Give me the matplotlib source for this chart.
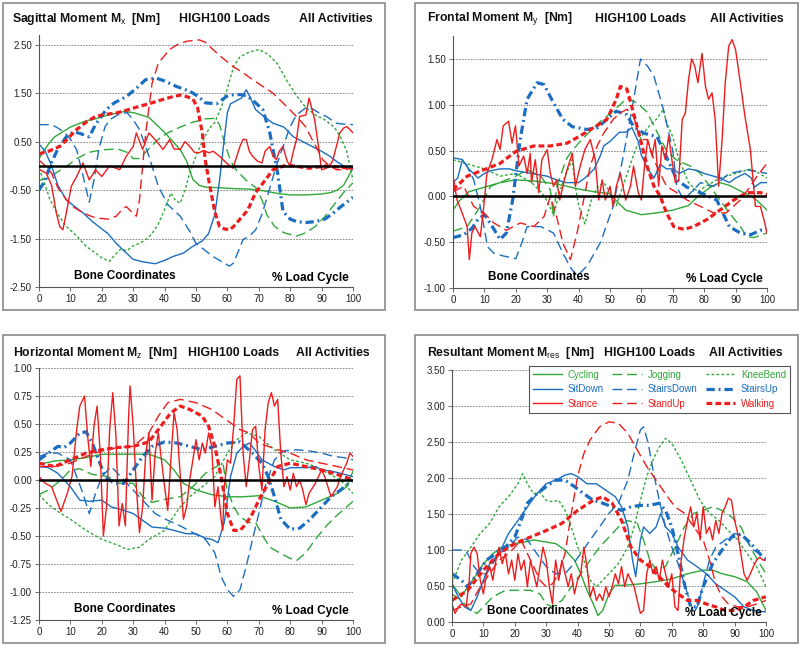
import matplotlib
matplotlib.use("Agg")
import matplotlib.pyplot as plt
from matplotlib.patches import Rectangle

plt.rcParams["font.family"] = ["Liberation Sans", "DejaVu Sans"]
plt.rcParams["mathtext.fontset"] = "custom"
plt.rcParams["mathtext.rm"] = "Liberation Sans"
plt.rcParams["mathtext.bf"] = "Liberation Sans:bold"
plt.rcParams["mathtext.it"] = "Liberation Sans:italic"

activities = ["Cycling", "Jogging", "KneeBend", "SitDown", "StairsDown",
              "StairsUp", "Stance", "StandUp", "Walking"]

# ---- Sagittal moment Mx [Nm]  (% load cycle, value)
mx_cycling = [(0, 0.15), (3, 0.45), (5, 0.6), (10, 0.8), (15, 0.93), (18, 0.97), (22, 1.05), (27, 1.12), (30, 1.1), (35, 1.0), (39.5, 0.72), (42, 0.55), (45, 0.33), (47, 0.1), (49, -0.28), (51, -0.4), (53, -0.44), (57, -0.45), (62, -0.47), (67, -0.48), (72, -0.52), (76, -0.57), (80, -0.6), (85, -0.6), (90, -0.58), (93, -0.55), (95, -0.5), (97, -0.4), (100, -0.05)]
mx_jogging = [(0, -0.3), (3, -0.25), (6, -0.12), (9, 0.0), (12, 0.15), (16, 0.28), (20, 0.33), (25, 0.35), (28, 0.28), (30, 0.15), (32, 0.15), (35, 0.35), (38, 0.55), (41, 0.68), (45, 0.8), (49, 0.9), (53, 0.97), (56, 0.98), (57.5, 0.85), (59, 0.5), (61, 0.1), (63, -0.1), (66, -0.3), (69, -0.45), (71, -0.7), (72.5, -1.0), (75, -1.25), (78, -1.38), (82, -1.45), (85, -1.38), (88, -1.25), (91, -1.05), (94, -0.8), (97, -0.55), (100, -0.35)]
mx_kneebend = [(0, -0.05), (2, -0.4), (3.5, -0.7), (6, -1.0), (8.7, -1.25), (12, -1.45), (15, -1.66), (18, -1.8), (20, -1.9), (22.5, -1.97), (24, -1.85), (26, -1.72), (28, -1.75), (30, -1.65), (32, -1.6), (34, -1.52), (36, -1.4), (38, -1.2), (40, -0.9), (42, -0.56), (43.5, -0.72), (45, -0.77), (46.5, -0.5), (48, -0.15), (50, 0.2), (52, 0.5), (54, 0.75), (56, 0.9), (58, 1.2), (60, 1.6), (62, 2.05), (64, 2.25), (67, 2.35), (70, 2.4), (73, 2.3), (76, 2.1), (79, 1.75), (82, 1.45), (85, 1.2), (88, 1.05), (91, 0.95), (94, 0.8), (96, 0.6), (98, 0.3), (100, -0.3)]
mx_sitdown = [(0, 0.45), (2, 0.3), (4, 0.0), (6, -0.4), (8.7, -0.7), (11, -0.82), (14, -0.97), (17, -1.15), (19, -1.25), (22, -1.4), (24.6, -1.6), (27, -1.75), (30, -1.93), (33, -1.98), (37, -2.02), (40, -1.95), (42.7, -1.87), (46, -1.8), (49, -1.66), (52, -1.55), (54, -1.4), (56, -1.0), (57.5, -0.3), (58.6, 0.33), (60, 1.1), (61, 1.28), (63, 1.35), (64.5, 1.4), (66, 1.57), (67, 1.45), (69, 1.16), (71, 1.05), (74.5, 0.88), (78, 0.8), (81, 0.6), (84, 0.5), (87, 0.4), (90, 0.3), (92.6, 0.2), (95, 0.08), (97, 0.0), (100, -0.08)]
mx_stairsdown = [(0, 0.85), (3, 0.85), (5, 0.82), (8, 0.7), (10, 0.55), (12, 0.33), (14, -0.2), (16, -0.75), (17.5, -0.3), (19, 0.33), (21, 0.8), (22.5, 0.95), (25, 1.05), (28, 1.1), (30, 0.95), (32, 0.75), (35, 0.2), (38, -0.42), (41, -0.8), (45, -1.04), (48, -1.35), (50, -1.6), (53, -1.75), (55.4, -1.87), (58, -1.97), (60.7, -2.07), (62, -2.0), (65, -1.52), (67, -1.45), (69, -1.32), (71, -1.0), (72.4, -0.7), (74, -0.35), (75.6, 0.0), (78, 0.45), (80, 0.81), (82, 1.05), (85, 1.2), (87, 1.18), (89, 1.1), (92, 1.0), (94.7, 0.88), (97, 0.86), (100, 0.85)]
mx_stairsup = [(0, -0.5), (2, -0.3), (3.5, 0.0), (6, 0.35), (8.7, 0.6), (11, 0.7), (13, 0.67), (16, 0.6), (18, 0.85), (21.4, 1.16), (24, 1.3), (27.8, 1.43), (31, 1.6), (34, 1.78), (37.4, 1.81), (40, 1.75), (43.7, 1.64), (48, 1.54), (51, 1.42), (53, 1.3), (56.5, 1.28), (59.7, 1.43), (62, 1.47), (64, 1.47), (66, 1.45), (68, 1.36), (71.3, 1.16), (73.5, 0.68), (76, -0.15), (77.7, -0.94), (80, -1.1), (82, -1.15), (85, -1.17), (88, -1.15), (91, -1.1), (93.6, -0.98), (96, -0.85), (99, -0.7), (100, -0.65)]
mx_stance = [(0, -0.07), (2.3, -0.15), (4, -0.4), (5.5, -0.97), (6.6, -1.25), (7.6, -1.32), (8.7, -0.97), (10.3, -0.42), (12, -0.22), (14, 0.06), (16, -0.29), (18, -0.08), (20, -0.22), (22.5, 0.0), (25.7, -0.08), (27.8, 0.2), (30, 0.4), (31, 0.68), (33, 0.34), (35, 0.68), (37, 0.54), (39.5, 0.34), (41.6, 0.54), (43, 0.35), (45, 0.34), (46.5, 0.5), (48, 0.4), (49.5, 0.28), (51, 0.27), (52.5, 0.32), (54, 0.27), (55.5, 0.3), (57.5, 0.2), (59.7, 0.06), (61.8, -0.05), (63, 0.2), (64, 0.4), (65, 0.55), (66, 0.54), (67, 0.3), (68, 0.2), (69.5, 0.1), (71, 0.06), (72, 0.3), (73.5, 0.4), (74.5, 0.2), (75.6, 0.13), (76.5, 0.3), (77.7, 0.4), (79, 0.1), (80, 0.0), (81, 0.3), (82, 0.54), (83, 1.02), (85, 1.05), (86, 1.4), (86.8, 1.2), (87.8, 0.95), (89, 0.4), (90, -0.08), (91.5, -0.05), (92.6, 0.0), (93.5, 0.1), (94.7, 0.4), (95.8, 0.68), (97, 0.78), (98, 0.81), (99, 0.75), (100, 0.68)]
mx_standup = [(0, 0.12), (2, 0.0), (4, -0.15), (6, -0.45), (8.7, -0.7), (11, -0.85), (14, -0.97), (17, -1.05), (19, -1.08), (22, -1.1), (24.6, -1.04), (26.5, -0.9), (27.8, -0.84), (29.5, -0.95), (31, -1.04), (32, -0.7), (33, 0.0), (34, 0.68), (36, 1.7), (38, 2.12), (41.6, 2.4), (44, 2.5), (47, 2.57), (51, 2.6), (53, 2.55), (55.4, 2.4), (58, 2.25), (61.8, 2.05), (65, 1.92), (68, 1.78), (71, 1.65), (74.5, 1.5), (78.8, 1.23), (83, 0.95), (85, 0.8), (87, 0.54), (89, 0.3), (90.4, 0.12), (92.5, 0.0), (94.7, -0.08), (97, -0.08), (100, -0.05)]
mx_walking = [(0, 0.25), (3, 0.3), (6.6, 0.4), (9, 0.55), (12, 0.75), (15, 0.9), (18, 1.02), (21, 1.06), (24.6, 1.09), (28, 1.15), (32, 1.23), (35, 1.28), (37.4, 1.33), (40, 1.38), (42.7, 1.43), (45, 1.46), (47, 1.43), (49, 1.38), (50.5, 1.2), (52, 0.68), (53, 0.1), (54.4, -0.42), (56, -0.95), (57.5, -1.25), (59, -1.3), (60.7, -1.32), (62, -1.25), (64, -1.1), (66, -0.95), (67, -0.84), (69, -0.55), (72, -0.3), (74.5, -0.08), (78, 0.0), (81, 0.0), (86, -0.05), (91.5, 0.0), (96, -0.03), (100, -0.05)]

# ---- Frontal moment My [Nm]
my_cycling = [(0, -0.15), (2, -0.05), (5, 0.05), (10, 0.1), (15, 0.15), (20, 0.18), (25, 0.17), (30, 0.15), (35, 0.12), (40, 0.08), (45, 0.05), (50, 0.03), (52, -0.05), (55, -0.15), (60, -0.2), (65, -0.18), (70, -0.15), (75, -0.1), (78, 0.0), (82, 0.1), (85, 0.15), (88, 0.12), (92, 0.05), (95, 0.0), (97, -0.05), (100, -0.15)]
my_jogging = [(0, -0.38), (4.5, -0.33), (8.7, -0.11), (12, 0.11), (17, 0.18), (20, 0.22), (23.6, 0.29), (28, 0.22), (31, 0.07), (32, -0.22), (33, 0.1), (35, 0.3), (36.3, 0.42), (38, 0.5), (40, 0.58), (42.7, 0.68), (47, 0.82), (51, 0.93), (55.4, 1.07), (58.6, 1.02), (61.8, 0.92), (65, 0.7), (68, 0.5), (71, 0.4), (75.6, 0.33), (78.8, 0.25), (82, 0.1), (85, -0.04), (88, -0.18), (91.5, -0.33), (93.6, -0.44), (95.8, -0.45), (100, -0.4)]
my_kneebend = [(0, 0.4), (5, 0.35), (10, 0.3), (15, 0.22), (20, 0.25), (25, 0.15), (28, 0.05), (30, -0.05), (32, -0.2), (34, 0.05), (36, 0.25), (38, 0.4), (39, 0.1), (40, -0.1), (42, -0.3), (44, -0.05), (46, 0.1), (48, 0.15), (50, 0.05), (52, -0.1), (54, 0.1), (56, 0.3), (58, 0.5), (60, 0.65), (62, 0.75), (65, 0.85), (67, 0.95), (68, 0.8), (70, 0.65), (72, 0.4), (75, 0.15), (78, 0.05), (80, 0.1), (85, 0.2), (90, 0.25), (95, 0.3), (100, 0.2)]
my_sitdown = [(0, 0.15), (1.5, 0.2), (3, 0.4), (5, 0.3), (8, 0.2), (10, 0.25), (12, 0.28), (15, 0.3), (18, 0.3), (20, 0.28), (25, 0.25), (30, 0.22), (33, 0.18), (36, 0.15), (38, 0.15), (40, 0.15), (42, 0.2), (45, 0.3), (47, 0.45), (48, 0.55), (50, 0.6), (53, 0.7), (55, 0.7), (57, 0.75), (59, 0.6), (60, 0.45), (62, 0.3), (64, 0.2), (66, 0.35), (68, 0.3), (70, 0.3), (72, 0.25), (75, 0.3), (78, 0.28), (80, 0.25), (83, 0.22), (85, 0.2), (88, 0.15), (90, 0.2), (93, 0.25), (95, 0.2), (96, 0.1), (98, 0.15), (100, 0.15)]
my_stairsdown = [(0, 0.42), (3.4, 0.4), (6.6, 0.18), (8.7, -0.11), (11, -0.55), (13, -0.62), (16, -0.65), (20, -0.68), (22, -0.5), (23.6, -0.33), (28, -0.33), (32, -0.4), (35, -0.62), (37.5, -0.78), (39.5, -0.87), (42.7, -0.76), (47, -0.5), (51, -0.11), (54.4, 0.47), (57.5, 1.05), (59.7, 1.5), (62, 1.42), (64, 1.31), (67, 0.95), (70, 0.5), (71.3, 0.1), (73.5, -0.04), (78.8, 0.15), (83, 0.11), (88, 0.25), (93.6, 0.29), (100, 0.25)]
my_stairsup = [(0, -0.45), (3.4, -0.42), (6, -0.35), (8, -0.25), (10, -0.2), (12, -0.3), (15, -0.47), (17, -0.4), (19, -0.04), (21.4, 0.62), (23.6, 1.06), (26.8, 1.24), (29, 1.22), (32, 1.02), (35, 0.84), (38, 0.76), (42.7, 0.73), (46, 0.75), (49, 0.84), (52, 0.93), (55.4, 0.89), (57.5, 0.76), (60.7, 0.69), (65, 0.65), (68, 0.43), (71.3, 0.18), (74.5, 0.1), (78.8, 0.04), (84, -0.04), (88, -0.33), (91.5, -0.4), (94.7, -0.42), (97.9, -0.37), (100, -0.37)]
my_stance = [(0, 0.22), (1.3, -0.04), (2.9, -0.18), (4.5, -0.33), (5.2, -0.69), (6, -0.4), (7, -0.33), (8.7, -0.44), (9.8, -0.11), (10.8, 0.25), (12.4, 0.4), (14, 0.62), (15, 0.51), (16, 0.77), (17.7, 0.82), (18.8, 0.58), (19.9, 0.77), (21, 0.33), (22.5, 0.44), (23.6, 0.25), (24.6, 0.47), (25, 0.15), (26.2, 0.4), (27.3, 0.04), (28.3, 0.4), (30, 0.51), (31, 0.25), (32, 0.11), (33, 0.18), (34, -0.04), (35, 0.11), (36.3, 0.29), (38, 0.47), (39, 0.11), (40.5, 0.33), (42, 0.51), (43.7, 0.62), (45.3, 0.4), (46.4, -0.04), (47.5, 0.18), (48.5, -0.04), (50, 0.11), (51, -0.11), (52, 0.11), (53.3, 0.25), (55, -0.04), (56.5, 0.11), (57.5, 0.33), (59, 0.04), (60, -0.04), (61, 0.33), (62, 0.62), (63.4, 0.44), (64.4, 0.62), (65.5, 0.11), (66.5, 0.55), (67.6, 0.4), (68.7, 0.66), (69.7, 0.4), (70.8, 0.15), (71.9, 0.18), (73, 0.84), (74, 0.91), (75, 1.27), (76, 1.5), (77, 1.42), (78, 1.24), (79.3, 1.56), (80.4, 1.2), (81.4, 1.06), (82.5, 1.13), (83.5, 0.84), (84.6, 0.11), (85.7, 0.62), (86.7, 1.24), (87.8, 1.64), (88.9, 1.71), (90, 1.6), (91.5, 1.24), (93, 0.87), (94.7, 0.51), (96.3, -0.11), (97.9, -0.11), (99, -0.25), (100, -0.4)]
my_standup = [(0, 0.05), (3.4, 0.11), (6.6, -0.11), (9.8, -0.18), (13, -0.29), (17, -0.37), (21.4, -0.29), (25.7, -0.33), (29, -0.22), (31, 0.0), (33, -0.22), (35, -0.51), (37.4, -0.69), (39.5, -0.4), (41.6, -0.04), (43.7, 0.33), (45.9, 0.55), (48, 0.69), (51, 0.84), (53.3, 0.91), (55.4, 0.95), (57.5, 0.87), (59.7, 0.62), (61.8, 0.62), (64, 0.4), (66, 0.25), (68, 0.11), (71.3, 0.04), (74.5, -0.04), (78.8, -0.11), (83, -0.18), (87, -0.18), (91.5, -0.04), (94.7, 0.11), (96.8, 0.22), (100, 0.36)]
my_walking = [(0, 0.07), (4.5, 0.22), (9.8, 0.29), (15, 0.36), (20, 0.49), (25.7, 0.55), (31, 0.55), (36.3, 0.58), (40.5, 0.66), (44.8, 0.75), (49, 0.84), (52, 1.06), (53.3, 1.2), (55.4, 1.17), (57.5, 0.91), (59.7, 0.62), (61.8, 0.33), (64, 0.11), (66, 0.0), (68, -0.18), (70.3, -0.33), (73.5, -0.36), (76.6, -0.33), (81, -0.25), (85, -0.15), (89.4, -0.04), (93.6, 0.04), (98, 0.04), (100, 0.02)]

# ---- Horizontal moment Mz [Nm]
mz_cycling = [(0, 0.14), (5, 0.17), (10, 0.18), (15, 0.2), (20, 0.23), (25, 0.23), (30, 0.23), (35, 0.23), (40, 0.18), (43, 0.09), (46, -0.03), (50, -0.09), (55, -0.13), (60, -0.15), (65, -0.15), (70, -0.14), (75, -0.19), (80, -0.25), (85, -0.24), (90, -0.18), (95, -0.12), (98, -0.06), (100, 0.08)]
mz_jogging = [(0, -0.13), (3, -0.09), (7, 0.0), (10, 0.09), (13, 0.1), (17, 0.05), (22, 0.03), (25.7, -0.03), (30, -0.03), (33, -0.15), (36, -0.2), (40.5, -0.17), (45, -0.15), (49, -0.06), (53, 0.06), (56.5, 0.12), (58.6, 0.15), (59.7, -0.06), (62, -0.24), (64, -0.33), (67, -0.38), (69, -0.38), (71.3, -0.5), (73.5, -0.6), (76.6, -0.65), (80, -0.7), (82, -0.72), (85, -0.65), (88, -0.53), (91.5, -0.41), (94.7, -0.32), (98, -0.24), (100, -0.19)]
mz_kneebend = [(0, -0.13), (3, -0.22), (7, -0.3), (10, -0.35), (15, -0.45), (20, -0.53), (25, -0.58), (28, -0.62), (32, -0.6), (35, -0.53), (40, -0.45), (42, -0.36), (45, -0.24), (48, -0.15), (52, -0.06), (56, 0.03), (60, 0.24), (63, 0.36), (66, 0.42), (70, 0.39), (75, 0.27), (80, 0.18), (85, 0.15), (88, 0.12), (92, 0.06), (96, 0.0), (100, -0.12)]
mz_sitdown = [(0, 0.12), (3, 0.11), (6, 0.06), (10, -0.06), (13, -0.18), (16, -0.19), (20, -0.18), (23, -0.24), (27, -0.27), (30, -0.3), (33, -0.36), (36, -0.42), (40, -0.43), (43, -0.45), (47, -0.48), (50, -0.48), (53, -0.52), (55, -0.53), (57, -0.56), (59, -0.38), (61, 0.03), (63, 0.24), (65, 0.3), (67, 0.33), (69, 0.26), (71, 0.18), (73, 0.15), (75, 0.12), (78, 0.09), (80, 0.11), (85, 0.11), (88, 0.12), (90, 0.09), (93, 0.08), (96, 0.06), (100, 0.03)]
mz_stairsdown = [(0, 0.21), (3, 0.24), (6, 0.24), (10, 0.18), (14, -0.12), (16, -0.3), (18, -0.12), (20, 0.03), (23, 0.12), (26, 0.03), (29, -0.06), (33, -0.18), (37, -0.3), (41, -0.36), (45, -0.41), (49, -0.47), (53, -0.53), (56, -0.65), (58, -0.86), (60, -0.98), (62, -1.04), (64, -0.98), (66, -0.77), (68, -0.53), (70, -0.3), (72, -0.06), (75, 0.18), (78, 0.26), (82, 0.27), (86, 0.26), (90, 0.24), (94, 0.21), (97, 0.2), (100, 0.18)]
mz_stairsup = [(0, 0.18), (3, 0.24), (6, 0.3), (8, 0.29), (10, 0.33), (13, 0.42), (15, 0.43), (17, 0.33), (19, 0.18), (21, 0.03), (24, -0.03), (27, -0.03), (30, 0.09), (33, 0.21), (36, 0.3), (40, 0.34), (44, 0.33), (48, 0.3), (52, 0.27), (56, 0.3), (60, 0.33), (64, 0.34), (68, 0.24), (71, 0.15), (73, 0.03), (75, -0.15), (77, -0.35), (80, -0.44), (83, -0.43), (86, -0.36), (90, -0.24), (93, -0.15), (96, -0.09), (100, 0.0)]
mz_stance = [(0, 0.03), (2, -0.03), (4, -0.06), (7, -0.28), (9, -0.12), (10.5, 0.03), (12, 0.45), (13, 0.66), (14.5, 0.75), (15.5, 0.39), (16.5, 0.12), (17.5, 0.48), (18.5, 0.66), (19.5, 0.24), (20.5, -0.5), (21.5, -0.24), (22.5, 0.45), (23.5, 0.78), (24.5, 0.39), (25.5, -0.41), (26.5, -0.21), (27.5, -0.41), (28.5, 0.54), (29, 0.84), (30, 0.48), (31, -0.06), (32, -0.47), (33, -0.24), (34, 0.24), (35, 0.42), (36, -0.18), (37, 0.24), (38, 0.42), (39, 0.18), (40, -0.06), (41, -0.27), (42, 0.18), (43, 0.6), (44, 0.45), (45, 0.03), (46, -0.35), (47, -0.24), (48, 0.0), (49, 0.18), (50, 0.36), (51, 0.18), (52, 0.33), (53, 0.24), (54, 0.42), (55, 0.3), (56, -0.24), (57, -0.06), (58, -0.35), (58.5, -0.45), (59, -0.06), (60, 0.18), (61, 0.15), (62, 0.48), (63, 0.9), (64, 0.93), (65, 0.24), (66, -0.06), (67, 0.18), (68, 0.45), (69, 0.48), (70, 0.12), (71, -0.09), (72, 0.45), (73, 0.69), (74, 0.78), (75, 0.66), (76, 0.72), (77, 0.24), (78, -0.06), (79, 0.03), (80, -0.09), (81, 0.06), (82, -0.06), (83, 0.0), (84, -0.09), (85, -0.22), (86, -0.12), (88, -0.03), (90, 0.09), (91, 0.03), (92, -0.06), (93, -0.15), (95, -0.06), (96, 0.03), (98, 0.15), (99, 0.24), (100, 0.21)]
mz_standup = [(0, 0.12), (5, 0.12), (10, 0.15), (15, 0.21), (20, 0.26), (25, 0.29), (30, 0.3), (35, 0.42), (38, 0.57), (41, 0.69), (45, 0.72), (50, 0.69), (55, 0.63), (58, 0.57), (61, 0.51), (64, 0.45), (67, 0.42), (70, 0.33), (73, 0.3), (76, 0.27), (80, 0.24), (85, 0.18), (90, 0.15), (95, 0.12), (100, 0.09)]
mz_walking = [(0, 0.15), (5, 0.12), (10, 0.18), (15, 0.24), (20, 0.27), (25, 0.29), (30, 0.3), (35, 0.34), (38, 0.45), (42, 0.6), (45, 0.66), (48, 0.63), (52, 0.57), (54, 0.48), (56, 0.3), (58, 0.03), (60, -0.3), (62, -0.45), (64, -0.45), (66, -0.39), (68, -0.3), (70, -0.18), (73, -0.03), (76, 0.12), (80, 0.15), (85, 0.12), (90, 0.09), (95, 0.05), (100, 0.0)]

# ---- Resultant moment Mres [Nm]
mres_cycling = [(0, 0.53), (3, 0.35), (5, 0.49), (8, 0.67), (10, 0.81), (13, 0.95), (16, 1.04), (20, 1.09), (23, 1.11), (26, 1.14), (30, 1.11), (33, 1.09), (36, 1.0), (39, 0.86), (41, 0.67), (43, 0.44), (45, 0.25), (46.5, 0.09), (48, 0.16), (50, 0.39), (52, 0.51), (55, 0.51), (60, 0.53), (65, 0.56), (70, 0.6), (75, 0.67), (80, 0.72), (83, 0.72), (86, 0.67), (90, 0.63), (94, 0.56), (97, 0.42), (100, 0.16)]
mres_jogging = [(0, 0.39), (3, 0.3), (6, 0.16), (8, 0.12), (10, 0.21), (13, 0.35), (17, 0.44), (21, 0.44), (25, 0.44), (28, 0.39), (30, 0.25), (32, 0.21), (35, 0.3), (38, 0.49), (41, 0.67), (44, 0.86), (47, 1.04), (50, 1.18), (53, 1.32), (56, 1.41), (59, 1.37), (61, 1.14), (63, 0.86), (65, 0.72), (68, 0.77), (71, 1.04), (74, 1.32), (77, 1.51), (80, 1.55), (83, 1.6), (86, 1.55), (89, 1.46), (92, 1.32), (95, 1.04), (98, 0.81), (100, 0.67)]
mres_kneebend = [(0, 0.53), (3, 0.86), (6, 1.04), (9, 1.23), (12, 1.37), (15, 1.6), (18, 1.74), (21, 1.92), (22.5, 2.06), (24, 1.92), (26, 1.78), (28, 1.8), (30, 1.69), (32, 1.67), (34, 1.69), (36, 1.55), (38, 1.32), (40, 1.04), (42, 0.86), (44, 0.58), (46, 0.49), (48, 0.58), (50, 0.67), (53, 0.81), (56, 1.04), (58, 1.32), (60, 1.69), (62, 2.02), (64, 2.25), (66, 2.43), (68, 2.55), (70, 2.48), (73, 2.25), (76, 1.97), (79, 1.69), (82, 1.51), (85, 1.41), (88, 1.27), (91, 1.14), (94, 0.95), (97, 0.77), (100, 0.49)]
mres_sitdown = [(0, 0.53), (2, 0.35), (4, 0.21), (6, 0.16), (8, 0.35), (10, 0.58), (12, 0.81), (15, 0.95), (18, 1.23), (21, 1.41), (24, 1.6), (27, 1.78), (30, 1.92), (33, 1.97), (36, 2.04), (38, 2.06), (40, 2.02), (43, 1.92), (46, 1.92), (49, 1.83), (52, 1.74), (54, 1.6), (56, 1.32), (57.5, 0.86), (58.5, 0.63), (60, 1.14), (61, 1.32), (63, 1.23), (65, 1.32), (66.5, 1.51), (68, 1.32), (70, 1.23), (72, 1.04), (75, 0.86), (78, 0.77), (81, 0.67), (84, 0.53), (87, 0.44), (90, 0.35), (93, 0.21), (96, 0.16), (100, 0.14)]
mres_stairsdown = [(0, 1.0), (3, 1.0), (5, 0.95), (7, 0.77), (9, 0.67), (11, 0.67), (13, 0.81), (15, 0.95), (18, 1.04), (21, 1.18), (24, 1.14), (27, 0.95), (30, 0.77), (33, 0.67), (36, 0.67), (38, 0.77), (41, 0.95), (44, 1.14), (47, 1.32), (50, 1.51), (53, 1.65), (56, 1.97), (58, 2.34), (60, 2.67), (61, 2.71), (62.5, 2.48), (64, 2.11), (66, 1.69), (68, 1.32), (70, 1.04), (72, 0.81), (74, 0.53), (76, 0.25), (77, 0.12), (78.5, 0.25), (80, 0.53), (82, 0.86), (84, 1.04), (87, 1.14), (90, 1.23), (93, 1.18), (96, 1.0), (100, 0.9)]
mres_stairsup = [(0, 0.67), (3, 0.58), (5, 0.49), (8, 0.67), (11, 0.86), (14, 0.95), (17, 1.04), (20, 1.18), (22, 1.41), (24, 1.65), (27, 1.78), (30, 1.88), (33, 1.97), (36, 1.97), (39, 1.88), (42, 1.78), (45, 1.69), (48, 1.65), (51, 1.6), (54, 1.55), (57, 1.6), (60, 1.62), (63, 1.62), (66, 1.65), (68, 1.55), (70, 1.32), (72, 0.95), (74, 0.53), (76, 0.21), (78, 0.21), (80, 0.49), (83, 0.81), (86, 1.0), (89, 1.18), (92, 1.22), (95, 1.1), (98, 0.95), (100, 0.86)]
mres_stance = [(0, 0.25), (1, 0.12), (2, 0.21), (3, 0.25), (4.5, 0.21), (5.5, 0.58), (6, 0.95), (7, 1.04), (8, 0.95), (9, 0.58), (10, 0.39), (11, 0.67), (12, 0.77), (13, 0.58), (14, 0.86), (15, 1.04), (16, 0.81), (17, 0.95), (18, 0.67), (19, 0.86), (20, 0.58), (21, 0.95), (22, 0.72), (23, 0.86), (24, 0.49), (25, 0.86), (26, 0.67), (27, 0.49), (28, 0.77), (29, 1.04), (30, 0.86), (31, 0.49), (32, 0.25), (33, 0.86), (34, 0.58), (35, 0.86), (36, 0.67), (37, 0.49), (38, 0.67), (39, 0.39), (40, 0.58), (41, 0.67), (42, 1.04), (43, 0.77), (44, 0.35), (45, 0.49), (46, 0.3), (47, 0.39), (48, 0.3), (49, 0.49), (50, 0.35), (51, 0.49), (52, 0.67), (53, 0.53), (54, 0.77), (55, 0.49), (56, 0.67), (57, 0.58), (58, 0.49), (59, 0.3), (60, 0.12), (61, 0.16), (62, 0.67), (63, 0.86), (64, 0.67), (65, 0.77), (66, 0.58), (67, 0.86), (68, 0.67), (69, 0.49), (70, 0.67), (71, 0.21), (72, 0.16), (73, 0.86), (74, 1.18), (75, 1.41), (76, 1.6), (77, 1.32), (78, 1.51), (79, 1.14), (80, 1.6), (81, 1.23), (82, 1.32), (83, 1.14), (84, 1.41), (85, 1.23), (86, 1.51), (87, 1.6), (88, 1.72), (89, 1.69), (90, 1.41), (91, 1.23), (92, 0.95), (93, 0.67), (94, 0.58), (95, 0.67), (96, 0.77), (97, 0.86), (98, 0.9), (99, 0.86), (100, 0.86)]
mres_standup = [(0, 0.16), (3, 0.21), (6, 0.25), (9, 0.49), (12, 0.67), (15, 0.86), (18, 0.95), (20, 1.04), (22, 1.14), (24, 0.95), (26, 0.77), (28, 0.58), (30, 0.49), (32, 0.53), (34, 0.67), (36, 0.95), (38, 1.51), (40, 2.02), (42, 2.34), (44, 2.53), (47, 2.71), (50, 2.78), (53, 2.76), (56, 2.62), (59, 2.39), (62, 2.16), (65, 1.97), (68, 1.78), (71, 1.6), (74, 1.51), (77, 1.32), (80, 1.14), (82, 0.86), (84, 0.53), (86, 0.35), (88, 0.25), (91, 0.21), (94, 0.21), (97, 0.25), (100, 0.3)]
mres_walking = [(0, 0.3), (5, 0.44), (10, 0.72), (15, 0.95), (20, 1.09), (25, 1.18), (30, 1.27), (35, 1.37), (40, 1.55), (45, 1.69), (48, 1.74), (51, 1.65), (54, 1.41), (57, 1.04), (60, 0.86), (63, 0.77), (66, 0.63), (69, 0.49), (72, 0.39), (75, 0.3), (78, 0.3), (81, 0.25), (84, 0.21), (87, 0.16), (90, 0.16), (93, 0.21), (96, 0.3), (100, 0.35)]

GREEN = "#2fa83a"
BLUE = "#1b6ec2"
RED = "#ee1c1c"

# color, line width, dash pattern (None = solid)
styles = {
    "Cycling": (GREEN, 1.0, None),
    "Jogging": (GREEN, 1.0, (7, 3.5)),
    "KneeBend": (GREEN, 1.0, (2, 1.6)),
    "SitDown": (BLUE, 1.0, None),
    "StairsDown": (BLUE, 1.0, (7, 3.5)),
    "StairsUp": (BLUE, 2.3, (2.6, 1.2, 0.6, 1.2)),
    "Stance": (RED, 1.0, None),
    "StandUp": (RED, 1.0, (7, 3.5)),
    "Walking": (RED, 2.3, (1.8, 1.0)),
}

W, H = 800, 648
fig = plt.figure(figsize=(8, 6.48), dpi=100)


def px_axes(x0, y0, x1, y1):
    # pixel box (top-left origin) -> axes
    return fig.add_axes([x0 / W, 1 - y1 / H, (x1 - x0) / W, (y1 - y0) / H])


def frame(x0, y0, x1, y1):
    fig.add_artist(Rectangle((x0 / W, 1 - y1 / H), (x1 - x0) / W, (y1 - y0) / H,
                             transform=fig.transFigure, fill=False,
                             edgecolor="#8a8a8a", lw=1.2))


def titles(xl, xc, xr, y, name):
    kw = dict(fontweight="bold", va="center", color="#111111", fontsize=8.8)
    fig.text(xl / W, 1 - y / H, name, ha="left", **kw)
    fig.text(xc / W, 1 - y / H, "HIGH100 Loads", ha="center", **kw)
    fig.text(xr / W, 1 - y / H, "All Activities", ha="right", **kw)


def panel(ax, series, ylim, yticks, zero=True):
    for name, pts in zip(activities, series):
        color, lw, dashes = styles[name]
        xs = [p[0] for p in pts]
        ys = [p[1] for p in pts]
        line, = ax.plot(xs, ys, color=color, lw=lw, label=name,
                        solid_joinstyle="round")
        if dashes is not None:
            line.set_dashes(dashes)
    ax.set_xlim(0, 100)
    ax.set_ylim(*ylim)
    ax.set_xticks(range(0, 101, 10))
    ax.set_yticks(yticks)
    ax.set_yticklabels(["%.2f" % v for v in yticks])
    for v in yticks:
        if abs(v) > 1e-9 and v > ylim[0] + 1e-9:
            ax.axhline(v, color="#7a7a7a", lw=0.6, ls=(0, (2, 1.5)), zorder=0)
    if zero:
        ax.axhline(0, color="black", lw=1.8, zorder=5)
    for s in ("top", "right"):
        ax.spines[s].set_visible(False)
    for s in ("left", "bottom"):
        ax.spines[s].set_color("#555555")
        ax.spines[s].set_linewidth(0.8)
    ax.tick_params(labelsize=7, length=3, width=0.6, colors="#555555",
                   labelcolor="#222222", pad=2)
    ax.text(0.11, 0.045, "Bone Coordinates", transform=ax.transAxes,
            fontsize=8.5, fontweight="bold", ha="left", va="center", zorder=6)
    ax.text(0.985, 0.035, "% Load Cycle", transform=ax.transAxes,
            fontsize=8.5, fontweight="bold", ha="right", va="center", zorder=6)


# panel frames
frame(3, 3, 385, 310)
frame(415, 3, 798, 310)
frame(3, 335, 385, 643)
frame(415, 335, 798, 643)

ax1 = px_axes(39, 35, 353, 287)
panel(ax1, [mx_cycling, mx_jogging, mx_kneebend, mx_sitdown, mx_stairsdown,
            mx_stairsup, mx_stance, mx_standup, mx_walking],
      (-2.5, 2.7), [-2.5, -1.5, -0.5, 0.5, 1.5, 2.5])
titles(12, 225, 373, 19, r"Sagittal Moment M$_{\mathrm{x}}$  [Nm]")

ax2 = px_axes(453, 36, 767, 288)
panel(ax2, [my_cycling, my_jogging, my_kneebend, my_sitdown, my_stairsdown,
            my_stairsup, my_stance, my_standup, my_walking],
      (-1.0, 1.75), [-1.0, -0.5, 0.0, 0.5, 1.0, 1.5])
titles(427, 641, 784, 19, r"Frontal Moment M$_{\mathrm{y}}$  [Nm]")

ax3 = px_axes(39, 368, 353, 620)
panel(ax3, [mz_cycling, mz_jogging, mz_kneebend, mz_sitdown, mz_stairsdown,
            mz_stairsup, mz_stance, mz_standup, mz_walking],
      (-1.25, 1.0), [-1.25, -1.0, -0.75, -0.5, -0.25, 0.0, 0.25, 0.5, 0.75, 1.0])
titles(13, 234, 370, 353, r"Horizontal Moment M$_{\mathrm{z}}$  [Nm]")

ax4 = px_axes(452, 370, 766, 622)
panel(ax4, [mres_cycling, mres_jogging, mres_kneebend, mres_sitdown,
            mres_stairsdown, mres_stairsup, mres_stance, mres_standup,
            mres_walking],
      (0.0, 3.5), [0.0, 0.5, 1.0, 1.5, 2.0, 2.5, 3.0, 3.5], zero=False)
titles(427, 650, 783, 353, r"Resultant Moment M$_{\mathrm{res}}$  [Nm]")

# legend: rows of the reference read across, matplotlib fills columns
handles, labels = ax4.get_legend_handles_labels()
order = [0, 3, 6, 1, 4, 7, 2, 5, 8]
leg = fig.legend([handles[i] for i in order], [labels[i] for i in order],
                 ncol=3, loc="upper right", bbox_to_anchor=(790 / W, 1 - 366 / H),
                 bbox_transform=fig.transFigure, fontsize=7, frameon=True,
                 fancybox=False, edgecolor="#555555", framealpha=1,
                 handlelength=3.0, handletextpad=0.6, columnspacing=0.9,
                 labelspacing=0.45, borderpad=0.4, borderaxespad=0)
leg.get_frame().set_linewidth(0.8)
for txt, ln in zip(leg.get_texts(), leg.get_lines()):
    txt.set_color(ln.get_color())

fig.savefig("out.png", dpi=100)
